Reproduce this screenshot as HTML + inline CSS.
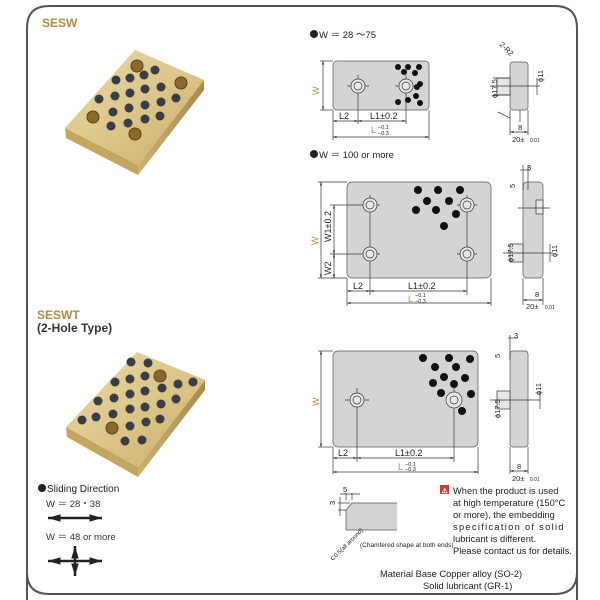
<!DOCTYPE html>
<html><head><meta charset="utf-8"><style>
body{margin:0;background:#fff;}
svg{display:block;font-family:"Liberation Sans",sans-serif;}
</style></head><body>
<svg width="600" height="600" viewBox="0 0 600 600" xmlns="http://www.w3.org/2000/svg">
<defs>
<linearGradient id="gold" x1="0" y1="0" x2="1" y2="1">
<stop offset="0" stop-color="#eadcaa"/><stop offset="0.5" stop-color="#dcc68a"/><stop offset="1" stop-color="#c9ad68"/></linearGradient>
<linearGradient id="goldE" x1="0" y1="0" x2="1" y2="0">
<stop offset="0" stop-color="#cdb070"/><stop offset="1" stop-color="#a88b48"/></linearGradient>
<marker id="a" viewBox="0 0 10 10" refX="10" refY="5" markerWidth="5" markerHeight="5" orient="auto-start-reverse"><path d="M0,2 L10,5 L0,8z" fill="#222"/></marker>
</defs>
<!-- frame -->
<path d="M27,600 L27,28 Q27,6 49,6 L555,6 Q577,6 577,28 L577,600" fill="none" stroke="#555" stroke-width="2"/>
<path d="M27,572 Q27,594 49,594 L555,594 Q577,594 577,572" fill="none" stroke="#555" stroke-width="2"/>

<text x="42" y="27" font-size="12" font-weight="bold" fill="#b08a45">SESW</text>
<text x="37" y="319" font-size="12" font-weight="bold" fill="#b08a45">SESWT</text>
<text x="37" y="332" font-size="12" font-weight="bold" fill="#333">(2-Hole Type)</text>

<!-- photo 1 -->
<g>
<polygon points="65,128 138,165 138,175 66,138" fill="#c4a660"/>
<polygon points="138,165 204,80 204,90 138,175" fill="url(#goldE)"/>
<polygon points="135,50 204,80 138,165 65,128" fill="url(#gold)"/>
<g fill="#3a3d45">
<circle cx="155" cy="70" r="4.5"/><circle cx="144" cy="75" r="4.5"/><circle cx="130" cy="78" r="4.5"/><circle cx="116" cy="80" r="4.5"/>
<circle cx="161" cy="87" r="4.5"/><circle cx="145" cy="89" r="4.5"/><circle cx="130" cy="93" r="4.5"/><circle cx="115" cy="96" r="4.5"/><circle cx="99" cy="99" r="4.5"/>
<circle cx="176" cy="98" r="4.5"/><circle cx="161" cy="102" r="4.5"/><circle cx="145" cy="105" r="4.5"/><circle cx="129" cy="108" r="4.5"/><circle cx="113" cy="112" r="4.5"/>
<circle cx="160" cy="116" r="4.5"/><circle cx="145" cy="119" r="4.5"/><circle cx="128" cy="123" r="4.5"/><circle cx="111" cy="126" r="4.5"/>
</g>
<g fill="#8a6a2a" stroke="#5a4318"><circle cx="137" cy="66" r="6"/><circle cx="181" cy="83" r="6"/><circle cx="93" cy="117" r="6"/><circle cx="135" cy="134" r="6"/></g>
</g>
<!-- photo 2 -->
<g>
<polygon points="66,427 138,467 138,477 67,437" fill="#c4a660"/>
<polygon points="138,467 205,380 205,390 138,477" fill="url(#goldE)"/>
<polygon points="137,352 205,380 138,467 66,427" fill="url(#gold)"/>
<g fill="#3a3d45">
<circle cx="131" cy="362" r="4.5"/><circle cx="148" cy="363" r="4.5"/>
<circle cx="130" cy="379" r="4.5"/><circle cx="145" cy="376" r="4.5"/><circle cx="178" cy="384" r="4.5"/><circle cx="193" cy="382" r="4.5"/>
<circle cx="115" cy="382" r="4.5"/><circle cx="130" cy="394" r="4.5"/><circle cx="145" cy="391" r="4.5"/><circle cx="162" cy="388" r="4.5"/><circle cx="176" cy="399" r="4.5"/>
<circle cx="98" cy="401" r="4.5"/><circle cx="114" cy="398" r="4.5"/><circle cx="130" cy="409" r="4.5"/><circle cx="145" cy="407" r="4.5"/><circle cx="161" cy="404" r="4.5"/>
<circle cx="82" cy="420" r="4.5"/><circle cx="96" cy="417" r="4.5"/><circle cx="113" cy="414" r="4.5"/><circle cx="146" cy="422" r="4.5"/><circle cx="160" cy="419" r="4.5"/>
<circle cx="130" cy="426" r="4.5"/><circle cx="125" cy="441" r="4.5"/><circle cx="142" cy="440" r="4.5"/>
</g>
<g fill="#8a6a2a" stroke="#5a4318"><circle cx="160" cy="376" r="6"/><circle cx="112" cy="428" r="6"/></g>
</g>

<!-- sliding direction -->
<circle cx="42" cy="488" r="4" fill="#222"/>
<text x="47" y="492" font-size="10" fill="#222">Sliding Direction</text>
<text x="46" y="507" font-size="9.5" fill="#333">W ＝ 28・38</text>
<line x1="48" y1="518" x2="102" y2="518" stroke="#222" stroke-width="2.5" marker-start="url(#a)" marker-end="url(#a)"/>
<text x="46" y="540" font-size="9.5" fill="#333">W ＝ 48 or more</text>
<line x1="48" y1="561" x2="102" y2="561" stroke="#222" stroke-width="2.5" marker-start="url(#a)" marker-end="url(#a)"/>
<line x1="75" y1="546" x2="75" y2="576" stroke="#222" stroke-width="2.5" marker-start="url(#a)" marker-end="url(#a)"/>

<g font-size="9.5" fill="#222">
<circle cx="314" cy="34" r="4" fill="#222"/><text x="319" y="38">W ＝ 28 ～75</text>
<circle cx="314" cy="154" r="4" fill="#222"/><text x="319" y="158">W ＝ 100 or more</text>
</g>

<g stroke="#333" stroke-width="0.7" fill="none">
<!-- diagram 1 -->
<rect x="333" y="61" width="96" height="49" rx="4" fill="#d4d4d4" stroke="#555"/>
<line x1="320" y1="61" x2="333" y2="61"/><line x1="320" y1="110" x2="333" y2="110"/>
<line x1="323" y1="61" x2="323" y2="110" marker-start="url(#a)" marker-end="url(#a)"/>
<line x1="333" y1="110" x2="333" y2="140"/><line x1="429" y1="110" x2="429" y2="140"/>
<line x1="358" y1="75" x2="358" y2="124"/><line x1="406" y1="75" x2="406" y2="124"/>
<line x1="347" y1="86" x2="369" y2="86"/><line x1="395" y1="86" x2="417" y2="86"/>
<line x1="333" y1="121" x2="358" y2="121" marker-start="url(#a)" marker-end="url(#a)"/>
<line x1="358" y1="121" x2="406" y2="121" marker-start="url(#a)" marker-end="url(#a)"/>
<line x1="333" y1="137" x2="429" y2="137" marker-start="url(#a)" marker-end="url(#a)"/>
<circle cx="358" cy="86" r="7" fill="#e8e8e8"/><circle cx="358" cy="86" r="4"/>
<circle cx="406" cy="86" r="7" fill="#e8e8e8"/><circle cx="406" cy="86" r="4"/>
<!-- side 1 -->
<rect x="510" y="62" width="18" height="48" rx="3" fill="#d4d4d4" stroke="#555"/>
<rect x="497" y="78" width="13" height="17" fill="#e6e6e6"/>
<line x1="490" y1="86" x2="540" y2="86"/>
<line x1="493" y1="78" x2="510" y2="78"/><line x1="493" y1="95" x2="510" y2="95"/>
<line x1="537" y1="78" x2="537" y2="95"/>
<line x1="510" y1="110" x2="510" y2="135"/><line x1="528" y1="110" x2="528" y2="135"/>
<line x1="510" y1="132" x2="528" y2="132" marker-start="url(#a)" marker-end="url(#a)"/>
<line x1="520" y1="110" x2="520" y2="122"/>
<line x1="498" y1="112" x2="510" y2="118"/>
<!-- diagram 2 -->
<rect x="347" y="182" width="144" height="96" rx="5" fill="#d4d4d4" stroke="#555"/>
<line x1="318" y1="182" x2="347" y2="182"/><line x1="318" y1="278" x2="347" y2="278"/>
<line x1="321" y1="182" x2="321" y2="278" marker-start="url(#a)" marker-end="url(#a)"/>
<line x1="330" y1="205" x2="380" y2="205"/><line x1="330" y1="254" x2="380" y2="254"/>
<line x1="334" y1="205" x2="334" y2="254" marker-start="url(#a)" marker-end="url(#a)"/>
<line x1="334" y1="254" x2="334" y2="278" marker-start="url(#a)" marker-end="url(#a)"/>
<line x1="457" y1="205" x2="477" y2="205"/><line x1="457" y1="254" x2="477" y2="254"/>
<line x1="370" y1="195" x2="370" y2="295"/><line x1="467" y1="195" x2="467" y2="295"/>
<line x1="347" y1="278" x2="347" y2="306"/><line x1="491" y1="278" x2="491" y2="306"/>
<line x1="347" y1="291" x2="370" y2="291" marker-start="url(#a)" marker-end="url(#a)"/>
<line x1="370" y1="291" x2="467" y2="291" marker-start="url(#a)" marker-end="url(#a)"/>
<line x1="347" y1="303" x2="491" y2="303" marker-start="url(#a)" marker-end="url(#a)"/>
<circle cx="370" cy="205" r="7" fill="#e8e8e8"/><circle cx="370" cy="205" r="4"/>
<circle cx="370" cy="254" r="7" fill="#e8e8e8"/><circle cx="370" cy="254" r="4"/>
<circle cx="467" cy="205" r="7" fill="#e8e8e8"/><circle cx="467" cy="205" r="4"/>
<circle cx="467" cy="254" r="7" fill="#e8e8e8"/><circle cx="467" cy="254" r="4"/>
<!-- side 2 -->
<rect x="523" y="182" width="20" height="96" rx="4" fill="#d4d4d4" stroke="#555"/>
<rect x="536" y="200" width="7" height="14" fill="#e6e6e6"/>
<rect x="510" y="244" width="13" height="18" fill="#e6e6e6"/>
<line x1="503" y1="253" x2="553" y2="253"/><line x1="518" y1="208" x2="550" y2="208"/>
<line x1="550" y1="244" x2="550" y2="262"/>
<line x1="523" y1="278" x2="523" y2="305"/><line x1="543" y1="278" x2="543" y2="305"/>
<line x1="523" y1="300" x2="543" y2="300" marker-start="url(#a)" marker-end="url(#a)"/>
<line x1="520" y1="170" x2="530" y2="170"/><line x1="523" y1="165" x2="523" y2="190"/><line x1="528" y1="165" x2="528" y2="190"/>
<!-- diagram 3 -->
<rect x="333" y="351" width="145" height="96" rx="5" fill="#d4d4d4" stroke="#555"/>
<line x1="318" y1="351" x2="333" y2="351"/><line x1="318" y1="447" x2="333" y2="447"/>
<line x1="321" y1="351" x2="321" y2="447" marker-start="url(#a)" marker-end="url(#a)"/>
<line x1="357" y1="388" x2="357" y2="462"/><line x1="454" y1="388" x2="454" y2="462"/>
<line x1="345" y1="400" x2="369" y2="400"/>
<line x1="333" y1="447" x2="333" y2="474"/><line x1="478" y1="447" x2="478" y2="474"/>
<line x1="333" y1="458" x2="357" y2="458" marker-start="url(#a)" marker-end="url(#a)"/>
<line x1="357" y1="458" x2="454" y2="458" marker-start="url(#a)" marker-end="url(#a)"/>
<line x1="333" y1="472" x2="478" y2="472" marker-start="url(#a)" marker-end="url(#a)"/>
<circle cx="357" cy="400" r="7" fill="#e8e8e8"/><circle cx="357" cy="400" r="4"/>
<circle cx="454" cy="400" r="8" fill="#e8e8e8"/><circle cx="454" cy="400" r="4"/>
<!-- side 3 -->
<rect x="510" y="351" width="18" height="96" rx="3" fill="#d4d4d4" stroke="#555"/>
<rect x="497" y="391" width="13" height="18" fill="#e6e6e6"/>
<line x1="490" y1="400" x2="540" y2="400"/><line x1="540" y1="391" x2="540" y2="409"/>
<line x1="510" y1="447" x2="510" y2="474"/><line x1="528" y1="447" x2="528" y2="474"/>
<line x1="510" y1="471" x2="528" y2="471" marker-start="url(#a)" marker-end="url(#a)"/>
<line x1="508" y1="338" x2="518" y2="338"/><line x1="510" y1="335" x2="510" y2="360"/>
<!-- chamfer detail -->
<path d="M346,530 L346,510 L352,503 L397,503 L397,530 Z" fill="#d4d4d4" stroke="none"/>
<path d="M397,503 L352,503 L346,510 L346,530 L397,530" stroke="#555"/>
<line x1="338" y1="503" x2="350" y2="503"/><line x1="338" y1="510" x2="346" y2="510"/>
<line x1="340" y1="497" x2="340" y2="516"/>
<line x1="346" y1="493" x2="346" y2="500"/><line x1="352" y1="493" x2="352" y2="500"/>
<line x1="340" y1="494" x2="360" y2="494"/>
</g>

<!-- dots -->
<g fill="#111">
<circle cx="398" cy="67" r="3"/><circle cx="408" cy="67" r="3"/><circle cx="419" cy="67" r="3"/>
<circle cx="404" cy="72" r="3"/><circle cx="415" cy="73" r="3"/><circle cx="420" cy="84" r="3"/>
<circle cx="398" cy="102" r="3"/><circle cx="408" cy="100" r="3"/><circle cx="416" cy="96" r="3"/><circle cx="420" cy="103" r="3"/>
<circle cx="417" cy="87" r="3"/>
<circle cx="418" cy="190" r="4"/><circle cx="438" cy="190" r="4"/><circle cx="460" cy="190" r="4"/>
<circle cx="427" cy="201" r="4"/><circle cx="449" cy="201" r="4"/>
<circle cx="416" cy="210" r="4"/><circle cx="436" cy="210" r="4"/><circle cx="456" cy="214" r="4"/>
<circle cx="444" cy="226" r="4"/>
<circle cx="423" cy="358" r="4"/><circle cx="449" cy="358" r="4"/><circle cx="470" cy="359" r="4"/>
<circle cx="435" cy="367" r="4"/><circle cx="456" cy="367" r="4"/>
<circle cx="444" cy="377" r="4"/><circle cx="465" cy="378" r="4"/>
<circle cx="433" cy="383" r="4"/><circle cx="454" cy="384" r="4"/>
<circle cx="441" cy="393" r="4"/><circle cx="471" cy="394" r="4"/>
<circle cx="462" cy="411" r="4"/>
</g>

<!-- dimension text -->
<g font-size="9" fill="#222">
<text x="339" y="119">L2</text><text x="370" y="119">L1±0.2</text>
<text x="371" y="133" fill="#b08a45">L</text><text x="378" y="129" font-size="5.5">−0.1</text><text x="378" y="135" font-size="5.5">−0.3</text>
<text x="319" y="95" fill="#b08a45" transform="rotate(-90 319 95)">W</text>
<text x="353" y="289">L2</text><text x="408" y="289">L1±0.2</text>
<text x="408" y="302" fill="#b08a45">L</text><text x="415" y="297" font-size="5.5">−0.1</text><text x="415" y="303" font-size="5.5">−0.3</text>
<text x="318" y="245" fill="#b08a45" transform="rotate(-90 318 245)">W</text>
<text x="331" y="242" transform="rotate(-90 331 242)">W1±0.2</text>
<text x="331" y="275" transform="rotate(-90 331 275)">W2</text>
<text x="338" y="456">L2</text><text x="395" y="456">L1±0.2</text>
<text x="398" y="470" fill="#b08a45">L</text><text x="405" y="466" font-size="5.5">−0.1</text><text x="405" y="471" font-size="5.5">−0.3</text>
<text x="319" y="406" fill="#b08a45" transform="rotate(-90 319 406)">W</text>
<g font-size="7.5">
<text x="497" y="98" transform="rotate(-90 497 98)">ϕ17.5</text><text x="543" y="82" transform="rotate(-90 543 82)">ϕ11</text>
<text x="518" y="130">8</text><text x="512" y="142">20±</text><text x="530" y="142" font-size="5">0.01</text>
<text x="499" y="45" transform="rotate(45 499 45)">2-R2</text>
<text x="513" y="262" transform="rotate(-90 513 262)">ϕ17.5</text><text x="557" y="257" transform="rotate(-90 557 257)">ϕ11</text>
<text x="535" y="297">8</text><text x="526" y="309">20±</text><text x="545" y="309" font-size="5">0.01</text>
<text x="527" y="170">3</text><text x="515" y="188" transform="rotate(-90 515 188)">5</text>
<text x="500" y="418" transform="rotate(-90 500 418)">ϕ17.5</text><text x="541" y="395" transform="rotate(-90 541 395)">ϕ11</text>
<text x="517" y="469">8</text><text x="512" y="481">20±</text><text x="530" y="481" font-size="5">0.01</text>
<text x="514" y="338">3</text><text x="500" y="358" transform="rotate(-90 500 358)">5</text>
<text x="343" y="492">5</text><text x="335" y="505" transform="rotate(-90 335 505)">3</text>
<text x="333" y="561" font-size="6" transform="rotate(-45 333 561)">C0.5(all around)</text>
</g>
<text x="360" y="547" font-size="6.5">(Chamfered shape at both ends)</text>
</g>

<!-- warning -->
<rect x="440" y="485" width="9" height="9" fill="#d9362b"/>
<text x="441.5" y="493" font-size="7" fill="#fff" font-weight="bold">⚠</text>
<g font-size="9.3" fill="#222">
<text x="453" y="494">When the product is used</text>
<text x="453" y="506">at high temperature (150°C</text>
<text x="453" y="518">or more), the embedding</text>
<text x="453" y="530" letter-spacing="1.3">specification of solid</text>
<text x="453" y="542">lubricant is different.</text>
<text x="453" y="554">Please contact us for details.</text>
<text x="380" y="577">Material  Base Copper alloy (SO-2)</text>
<text x="423" y="589">Solid lubricant (GR-1)</text>
</g>
</svg>
</body></html>
